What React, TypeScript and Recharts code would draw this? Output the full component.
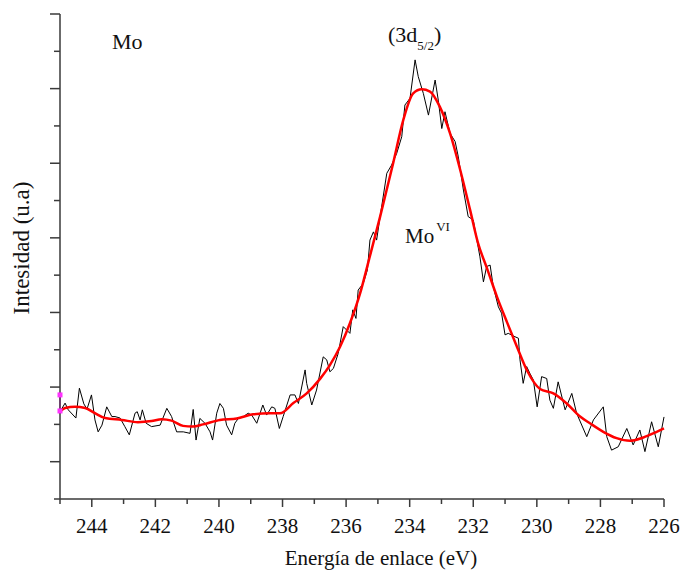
import React from 'react';
import { LineChart, Line, XAxis, YAxis, Scatter } from 'recharts';

// measured spectrum (binding energy eV, intensity a.u.)
const rawEnergy = [
  245.0, 244.84, 244.74, 244.5, 244.39, 244.25, 244.15, 244.01, 243.9, 243.8,
  243.68, 243.53, 243.37, 243.27, 243.11, 242.96, 242.82, 242.64, 242.57, 242.48,
  242.41, 242.29, 242.12, 241.85, 241.64, 241.49, 241.33, 241.12, 240.91, 240.81,
  240.72, 240.6, 240.44, 240.28, 240.2, 240.07, 239.97, 239.86, 239.76, 239.6,
  239.5, 239.39, 239.23, 239.08, 238.97, 238.81, 238.62, 238.5, 238.34, 238.24,
  238.1, 237.98, 237.76, 237.61, 237.5, 237.29, 237.24, 237.08, 236.93, 236.72,
  236.61, 236.51, 236.4, 236.25, 236.09, 235.88, 235.79, 235.69, 235.62, 235.46,
  235.33, 235.25, 235.14, 235.04, 234.93, 234.72, 234.57, 234.41, 234.25, 234.15,
  233.99, 233.83, 233.73, 233.57, 233.41, 233.2, 233.1, 232.99, 232.89, 232.73,
  232.57, 232.47, 232.31, 232.16, 232.0, 231.79, 231.68, 231.58, 231.47, 231.37,
  231.21, 231.11, 231.0, 230.9, 230.69, 230.58, 230.53, 230.43, 230.32, 230.22,
  230.11, 229.99, 229.85, 229.69, 229.59, 229.48, 229.33, 229.11, 228.9, 228.75,
  228.43, 228.22, 227.91, 227.8, 227.65, 227.44, 227.17, 226.97, 226.76, 226.6,
  226.39, 226.18, 226.0,
];
const rawIntensity = [
  234, 257, 239, 217, 297, 255, 241, 279, 212, 180,
  198, 247, 221, 221, 217, 194, 172, 230, 234, 212,
  239, 203, 194, 198, 243, 221, 180, 180, 176, 240,
  158, 216, 203, 180, 158, 230, 256, 243, 198, 172,
  203, 216, 221, 230, 225, 203, 252, 225, 247, 243,
  189, 221, 279, 279, 256, 346, 310, 252, 292, 381,
  373, 341, 350, 390, 462, 444, 507, 484, 560, 578,
  614, 694, 716, 694, 757, 873, 895, 926, 971, 1056,
  1074, 1177, 1132, 1087, 1029, 1123, 1069, 993, 1038, 980,
  958, 917, 828, 757, 748, 649, 582, 623, 627, 569,
  515, 498, 440, 444, 435, 431, 373, 310, 355, 337,
  319, 247, 328, 323, 265, 243, 314, 239, 283, 230,
  167, 212, 247, 167, 131, 140, 189, 145, 185, 127,
  207, 140, 220,
];

// fitted component Mo(VI) 3d5/2
const fitEnergy = [
  245.0, 244.84, 244.53, 244.21, 243.9, 243.58, 243.06, 242.55, 242.12, 241.8,
  241.49, 241.13, 240.82, 240.5, 239.97, 239.44, 238.93, 238.39, 238.08, 237.66,
  237.24, 236.82, 236.51, 236.19, 235.88, 235.56, 235.3, 234.93, 234.52, 234.2,
  233.89, 233.62, 233.36, 233.05, 232.73, 232.41, 232.1, 231.85, 231.57, 231.25,
  230.93, 230.62, 230.3, 229.9, 229.48, 229.06, 228.64, 228.33, 227.91, 227.49,
  227.07, 226.65, 226.23, 226.0,
];
const fitIntensity = [
  234, 244, 247, 244, 230, 217, 212, 206, 209, 214,
  210, 196, 194, 200, 212, 216, 227, 230, 230, 257,
  283, 322, 359, 408, 471, 551, 635, 757, 900, 1016,
  1087, 1098, 1092, 1051, 980, 882, 775, 686, 619, 541,
  472, 407, 343, 295, 283, 256, 221, 203, 180, 163,
  156, 165, 180, 189,
];

// marker at the start of the fit
const markerEnergy = [245, 245];
const markerIntensity = [279, 236];
const markerBar = [287, 228];

const xTicks = [245, 244, 243, 242, 241, 240, 239, 238, 237, 236, 235, 234, 233, 232, 231, 230, 229, 228, 227, 226];
const yTicks = [0, 100, 200, 300, 400, 500, 600, 700, 800, 900, 1000, 1100, 1200, 1300];

const rawData = rawEnergy.map((x, i) => ({ x, y: rawIntensity[i] }));
const fitData = fitEnergy.map((x, i) => ({ x, y: fitIntensity[i] }));
const markerData = markerEnergy.map((x, i) => ({ x, y: markerIntensity[i] }));
const markerLine = markerBar.map((y) => ({ x: 245, y }));

const FONT = '"Liberation Serif", "Times New Roman", serif';
const AXIS = '#3a3a3a';

const XTick = (props: any) => {
  const { x, y, payload } = props;
  const major = payload.value % 2 === 0;
  return (
    <g>
      <line x1={x} x2={x} y1={y} y2={y + (major ? 8 : 5)} stroke={AXIS} strokeWidth={1.5} />
      {major && (
        <text x={x} y={y + 34} textAnchor="middle" fontFamily={FONT} fontSize={21} fill="#111">
          {payload.value}
        </text>
      )}
    </g>
  );
};

const YTick = (props: any) => {
  const { x, y, payload } = props;
  const major = (payload.value / 100) % 2 === 1;
  return <line x1={x} x2={x - (major ? 10 : 6)} y1={y} y2={y} stroke={AXIS} strokeWidth={1.5} />;
};

const Square = (props: any) => {
  const { cx, cy } = props;
  return <rect x={cx - 2.5} y={cy - 2.5} width={5} height={5} fill="#ff33ff" />;
};

export default function App() {
  return (
    <div style={{ position: 'fixed', left: 0, top: 0, width: 684, height: 573, background: '#fff' }}>
      <LineChart width={684} height={573} margin={{ top: 14, right: 20, bottom: 0, left: 0 }}>
        <XAxis
          dataKey="x"
          type="number"
          domain={[226, 245]}
          reversed
          ticks={xTicks}
          interval={0}
          height={74}
          tickSize={0}
          tickMargin={0}
          tick={<XTick />}
          axisLine={{ stroke: AXIS, strokeWidth: 1.5 }}
        />
        <YAxis
          dataKey="y"
          type="number"
          domain={[0, 1300]}
          ticks={yTicks}
          interval={0}
          width={60}
          tickSize={0}
          tickMargin={0}
          tick={<YTick />}
          axisLine={{ stroke: AXIS, strokeWidth: 1.5 }}
        />
        <Line data={rawData} dataKey="y" type="linear" stroke="#000" strokeWidth={1} dot={false} isAnimationActive={false} />
        <Line data={fitData} dataKey="y" type="monotone" stroke="#ff0000" strokeWidth={2.5} dot={false} isAnimationActive={false} />
        <Line data={markerLine} dataKey="y" type="linear" stroke="#ff33ff" strokeWidth={1.5} dot={false} isAnimationActive={false} />
        <Scatter data={markerData} dataKey="y" shape={<Square />} isAnimationActive={false} />
      </LineChart>
      <svg
        width={684}
        height={573}
        style={{ position: 'absolute', left: 0, top: 0, pointerEvents: 'none' }}
        fontFamily={FONT}
      >
        <g fill="#111">
          <text x={112} y={49} fontSize={22}>Mo</text>
          <text x={388} y={42} fontSize={22}>
            (3d<tspan fontSize={13} dy={8}>5/2</tspan>
            <tspan dy={-8}>)</tspan>
          </text>
          <text x={405} y={243} fontSize={21}>
            Mo<tspan fontSize={13} dy={-12} dx={2}>VI</tspan>
          </text>
          <text x={381} y={565} fontSize={21} textAnchor="middle">Energía de enlace (eV)</text>
          <text x={29} y={248} fontSize={23} textAnchor="middle" transform="rotate(-90 29 248)">
            Intesidad (u.a)
          </text>
        </g>
      </svg>
    </div>
  );
}
